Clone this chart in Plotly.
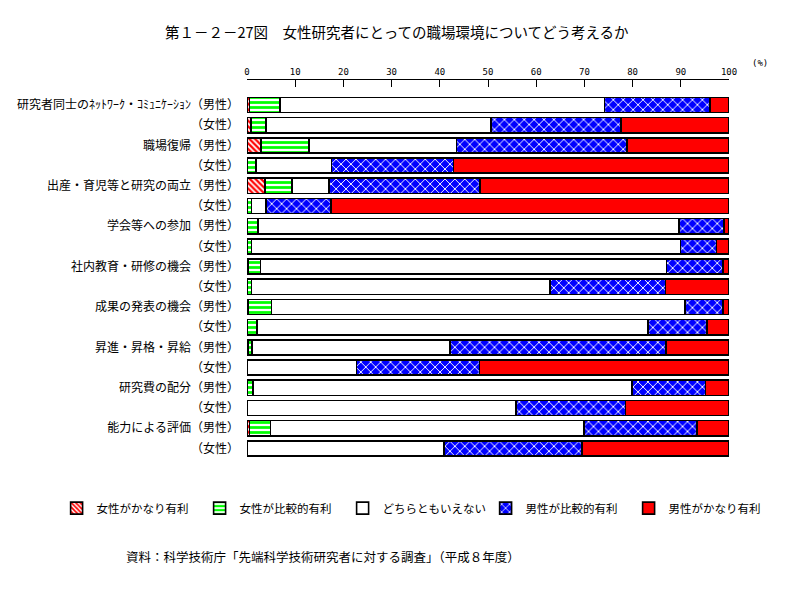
import plotly.graph_objects as go

topics = ["研究者同士のﾈｯﾄﾜｰｸ・ｺﾐｭﾆｹｰｼｮﾝ", "職場復帰", "出産・育児等と研究の両立", "学会等への参加",
          "社内教育・研修の機会", "成果の発表の機会", "昇進・昇格・昇給", "研究費の配分", "能力による評価"]
male_suffix = "（男性）"
female_label = "（女性）"

series_names = ["女性がかなり有利", "女性が比較的有利", "どちらともいえない", "男性が比較的有利", "男性がかなり有利"]

f_strong = [0.5, 0.8, 2.9, 0, 3.7, 0, 0, 0, 0.3, 0, 0.3, 0, 0.3, 0, 0, 0, 0.5, 0]
f_some = [6.3, 3.1, 9.9, 1.9, 5.6, 0.9, 2.3, 0.9, 2.5, 0.9, 4.8, 2.1, 0.7, 0, 1.2, 0, 4.4, 0]
neutral = [67.4, 46.7, 30.7, 15.6, 7.7, 3.0, 87.3, 89.0, 84.2, 62.0, 85.8, 81.1, 41.1, 22.7, 78.7, 55.8, 65.0, 40.9]
m_some = [21.9, 27.0, 35.3, 25.3, 31.3, 13.5, 9.4, 7.5, 11.8, 23.9, 7.9, 12.2, 44.8, 25.5, 15.2, 22.7, 23.5, 28.6]
m_strong = [3.9, 22.4, 21.2, 57.2, 51.7, 82.6, 1.0, 2.6, 1.2, 13.2, 1.2, 4.6, 13.1, 51.8, 4.9, 21.5, 6.6, 30.5]

x_ticks = [0, 10, 20, 30, 40, 50, 60, 70, 80, 90, 100]

row_labels = []
for t in topics:
    row_labels.append(t + male_suffix)
    row_labels.append(female_label)
rows = list(range(len(row_labels)))

FONT = "Noto Sans CJK JP"

styles = [
    dict(color="#FF0000", pattern=dict(shape="\\", fgcolor="#FF0000", bgcolor="#FFFFFF", size=4, solidity=0.55, fillmode="replace")),
    dict(color="#00FF00", pattern=dict(shape="-", fgcolor="#00FF00", bgcolor="#FFFFFF", size=5, solidity=0.55, fillmode="replace")),
    dict(color="#FFFFFF"),
    dict(color="#0000FF", pattern=dict(shape="x", fgcolor="#FFFFFF", bgcolor="#0000FF", size=7, solidity=0.25, fillmode="replace")),
    dict(color="#FF0000"),
]

fig = go.Figure()
for name, vals, st in zip(series_names, [f_strong, f_some, neutral, m_some, m_strong], styles):
    marker = dict(st)
    marker["line"] = dict(color="#000000", width=1.6)
    fig.add_trace(go.Bar(
        x=vals, y=rows, orientation="h", name=name, marker=marker, width=0.75,
        hovertemplate="%{x}%<extra>" + name + "</extra>",
    ))

# page has an 8px body margin, so the figure is 8px smaller in each direction
fig.update_layout(
    barmode="stack",
    width=786, height=587,
    paper_bgcolor="#FFFFFF", plot_bgcolor="#FFFFFF",
    margin=dict(l=239, r=65, t=72, b=130, autoexpand=False),
    font=dict(family=FONT, color="#000000", size=12),
    showlegend=True,
    legend=dict(
        orientation="h", x=-0.395, xanchor="left", y=-0.112, yanchor="middle",
        font=dict(family=FONT, size=11.5), entrywidth=98, entrywidthmode="pixels",
        traceorder="normal", itemclick=False, itemdoubleclick=False,
    ),
    xaxis=dict(
        side="top", range=[0, 100], tickvals=x_ticks, ticktext=[str(v) for v in x_ticks],
        ticks="inside", ticklen=7, tickcolor="#000000", showline=True, linecolor="#000000",
        linewidth=1, showgrid=False, zeroline=False, fixedrange=True,
        tickfont=dict(family="DejaVu Sans Mono", size=9),
    ),
    yaxis=dict(
        range=[17.82, -1.24], tickvals=rows, ticktext=row_labels, showgrid=False,
        zeroline=False, showline=False, ticks="", ticklabelstandoff=7, fixedrange=True,
        tickfont=dict(family=FONT, size=12),
    ),
    annotations=[
        dict(text="第１－２－27図　女性研究者にとっての職場環境についてどう考えるか",
             xref="paper", yref="paper", x=(397 - 247) / 482, y=(465 - 32) / 385,
             xanchor="center", yanchor="middle", showarrow=False,
             font=dict(family=FONT, size=14.5)),
        dict(text="(%)", xref="paper", yref="paper", x=(750 - 247) / 482, y=(465 - 63) / 385,
             xanchor="left", yanchor="middle", showarrow=False,
             font=dict(family="DejaVu Sans Mono", size=9)),
        dict(text="資料：科学技術庁「先端科学技術研究者に対する調査」（平成８年度）",
             xref="paper", yref="paper", x=(124 - 247) / 482, y=(465 - 556) / 385,
             xanchor="left", yanchor="middle", showarrow=False,
             font=dict(family=FONT, size=12.5)),
    ],
)

fig.write_html("out.html")
